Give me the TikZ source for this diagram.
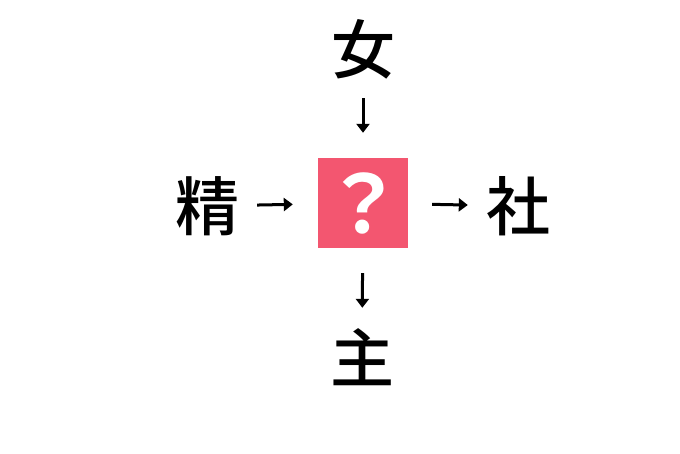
\documentclass[tikz,border=0pt]{standalone}
\usepackage{fontspec}
\newfontfamily\cjk{Noto Sans CJK JP Medium}
\newfontfamily\cjkbold{Noto Sans CJK JP Bold}
\usetikzlibrary{arrows.meta,positioning}
\definecolor{qpink}{RGB}{243,86,112}
\tikzset{
	x=1pt, y=-1pt,
	kanji/.style = {
			font          = \cjk\fontsize{64}{64}\selectfont,
			minimum size  = 64pt,
			inner sep     = 0pt,
		},
	qbox/.style = {
			fill          = qpink,
			text          = white,
			minimum size  = 90pt,
			inner sep     = 0pt,
			font          = \cjkbold\fontsize{80}{80}\selectfont,
		},
	arr/.style = {
			line width = 3pt,
			-{Triangle[width=13pt,length=9pt]},
		}
}
\begin{document}
\begin{tikzpicture}
		\useasboundingbox (0,0) rectangle (680,453);

		\node[qbox] at (363,203) (q) {？};

		\node[kanji] at (363,49) (top) {女};
		\node[kanji] at (207,206) (left) {精};
		\node[kanji] at (518,206) (right) {社};
		\node[kanji] at (362,357) (bottom) {主};

		\draw[arr, shorten <=17pt, shorten >=25pt] (top) -- (q);
		\draw[arr, shorten <=18pt, shorten >=25pt] (left) -- (q);
		\draw[arr, shorten <=24pt, shorten >=18pt] (q) -- (right);
		\draw[arr, shorten <=25pt, shorten >=17pt] (q) -- (bottom);
	\end{tikzpicture}
\end{document}
